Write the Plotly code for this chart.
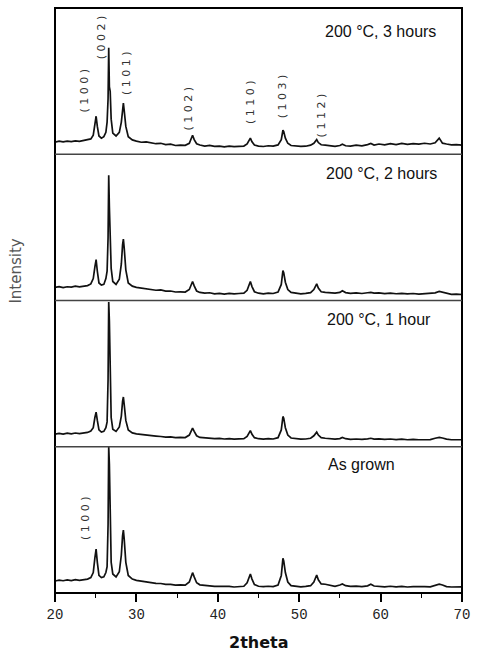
import plotly.graph_objects as go
from plotly.subplots import make_subplots

# ---- data (2theta grid shared by all four patterns) ----
two_theta = [
    20.0, 20.5, 21.0, 21.5, 22.0, 22.5, 23.0, 23.5, 24.0, 24.4,
    24.7, 24.9, 25.05, 25.2, 25.4, 25.7,
    26.0, 26.25, 26.4, 26.52, 26.6, 26.68, 26.78, 26.9, 27.1,
    27.5, 27.9, 28.15, 28.3, 28.4, 28.5, 28.7, 29.0,
    29.5, 30.0, 30.6, 31.2, 31.8, 32.4, 33.0, 33.6, 34.2, 34.8, 35.4, 36.0,
    36.5, 36.75, 36.9, 37.1, 37.4, 37.8,
    38.4, 39.0, 39.6, 40.2, 40.8, 41.4, 42.0, 42.6, 43.2,
    43.6, 43.85, 44.0, 44.2, 44.5,
    45.0, 45.6, 46.2, 46.8, 47.4,
    47.8, 48.0, 48.1, 48.3, 48.6, 49.0,
    49.6, 50.2, 50.8, 51.4,
    51.8, 52.0, 52.15, 52.35, 52.7, 53.2,
    53.8, 54.4, 55.0, 55.3, 55.7, 56.3, 57.0, 57.7, 58.4, 58.8, 59.2, 59.8,
    60.5, 61.2, 61.9, 62.6, 63.3, 64.0, 64.7, 65.4, 66.1, 66.7, 67.2, 67.6,
    68.1, 68.7, 69.3, 70.0,
]

int_3h = [
    8.3, 8.9, 8.5, 9.0, 8.6, 9.2, 8.8, 9.3, 9.6, 10.5,
    13, 21, 26, 19, 12.5, 11,
    12, 15, 22, 38, 72.8, 46, 43, 24, 14.5,
    12.5, 15, 22, 32, 35, 30, 19, 12,
    9.8, 9.0, 8.2, 8.5, 7.6, 7.2, 7.5, 6.6, 6.9, 6.0, 6.3, 6.1,
    7.5, 11, 13, 10, 7.2, 6.3,
    5.6, 6.0, 5.4, 5.5, 5.0, 5.6, 5.2, 5.4, 5.6,
    7.0, 10, 11, 8.5, 6.3,
    5.6, 5.3, 5.8, 5.6, 6.4,
    10, 16.4, 15.5, 11, 7.5, 6.0,
    5.6, 5.4, 5.5, 6.2,
    7.5, 9.5, 10, 8, 6.5, 6.2,
    5.8, 5.4, 6.0, 6.8, 5.8, 5.5, 6.2, 5.8, 6.6, 7.4, 6.3, 7.0,
    6.4, 7.2, 6.6, 7.4, 6.8, 7.3, 6.9, 7.5, 7.0, 7.8, 11.0, 7.6,
    7.0, 6.4, 6.6, 6.2,
]

int_2h = [
    9.0, 9.5, 8.8, 9.4, 9.2, 9.8, 9.3, 9.9, 10.2, 11.3,
    15, 23, 28, 20, 12, 10.5,
    11, 15, 20, 43, 85.6, 64, 40, 22, 13,
    11, 14.5, 25, 38, 42, 36, 21, 12,
    9.8, 9.0, 8.6, 8.0, 7.9, 7.0, 7.2, 6.4, 6.5, 5.8, 5.9, 5.8,
    7.5, 11, 13, 10, 6.5, 5.5,
    5.0, 5.3, 4.6, 4.9, 4.4, 4.9, 4.5, 4.8, 5.0,
    7, 11, 13, 9.5, 6.0,
    5.0, 4.6, 5.0, 4.8, 5.8,
    11, 20.5, 19, 12.5, 7.5, 5.5,
    4.8, 4.6, 4.9, 5.4,
    7.5, 10.5, 11.4, 8.5, 6.0, 5.5,
    5.4, 5.0, 5.5, 6.6, 5.4, 4.9, 5.2, 4.8, 5.3, 5.6, 5.0, 5.2,
    4.7, 5.1, 4.6, 4.9, 4.5, 4.8, 4.4, 4.7, 4.5, 5.2, 6.2, 5.6,
    4.6, 4.2, 4.4, 4.1,
]

int_1h = [
    8.6, 9.1, 8.7, 9.3, 8.8, 9.4, 9.0, 9.5, 9.8, 10.8,
    13, 20, 23.7, 18, 11.5, 10,
    10.5, 13, 17, 46, 99, 86, 44, 20, 12,
    10.5, 13.5, 21, 31, 34, 29, 18, 11.5,
    9.5, 8.8, 8.3, 8.0, 7.6, 7.3, 7.0, 6.6, 6.8, 6.2, 6.4, 6.3,
    8, 11, 12.8, 10.5, 7.5, 6.4,
    6.0, 5.8, 5.6, 5.7, 5.3, 5.6, 5.2, 5.4, 5.5,
    7, 9.8, 11, 8.5, 6.2,
    5.5, 5.2, 5.6, 5.3, 6.2,
    11.5, 20.7, 19.5, 13, 8, 6.0,
    5.4, 5.2, 5.3, 5.8,
    7.5, 9.5, 10, 8, 6.2, 5.8,
    5.6, 5.2, 5.6, 6.4, 5.5, 5.0, 5.3, 5.0, 5.4, 5.8, 5.2, 5.4,
    5.0, 5.3, 4.9, 5.2, 4.8, 5.1, 4.8, 5.0, 4.9, 5.8, 6.4, 6.0,
    5.2, 4.8, 5.0, 4.8,
]

int_grown = [
    8.2, 8.8, 8.4, 8.9, 8.5, 9.1, 8.7, 9.2, 9.5, 10.5,
    14, 24, 30, 21, 12, 10.5,
    11, 14, 18, 46.6, 100, 88, 45, 21, 13,
    11, 14.5, 26, 39, 43, 37, 21, 12,
    9.5, 8.6, 8.0, 7.6, 7.1, 6.6, 6.5, 5.9, 5.9, 5.4, 5.5, 5.4,
    7.5, 12, 13.9, 11, 7, 5.6,
    5.0, 4.9, 4.5, 4.6, 4.2, 4.5, 4.1, 4.4, 4.6,
    7, 11, 13, 9.5, 5.8,
    4.6, 4.3, 4.6, 4.4, 5.5,
    12, 23.7, 22, 14, 7.5, 5.0,
    4.4, 4.2, 4.5, 5.0,
    7.5, 11, 12.3, 9, 6.2, 6.0,
    5.2, 4.6, 5.5, 6.2, 5.0, 4.5, 4.7, 4.4, 4.9, 6.0, 4.8, 4.6,
    4.2, 4.6, 4.2, 4.5, 4.1, 4.4, 4.1, 4.3, 4.2, 5.2, 6.0, 5.5,
    4.4, 4.1, 4.3, 4.2,
]

panel_series = [int_3h, int_2h, int_1h, int_grown]
panel_labels = ["200 °C, 3 hours", "200 °C, 2 hours", "200 °C, 1 hour", "As grown"]
panel_label_x = [60.0, 60.1, 59.8, 57.6]
panel_label_y = [83.6, 87.0, 87.0, 87.7]

hkl_labels = ["(100)", "(002)", "(101)", "(102)", "(110)", "(103)", "(112)"]
hkl_x = [23.6, 25.75, 28.76, 36.45, 44.0, 47.9, 52.7]
hkl_y = [43.8, 79.8, 55.8, 31.2, 36.0, 39.7, 26.7]
grown_hkl_label = "(100)"
grown_hkl_x = 23.75
grown_hkl_y = 51.0

x_ticks = [20, 30, 40, 50, 60, 70]

for s in panel_series:
    assert len(s) == len(two_theta), len(s)

fig = make_subplots(rows=4, cols=1, shared_xaxes=True, vertical_spacing=0)

for i, ys in enumerate(panel_series):
    fig.add_trace(
        go.Scatter(x=two_theta, y=ys, mode="lines",
                   line=dict(color="#111111", width=1.7),
                   showlegend=False, hoverinfo="skip"),
        row=i + 1, col=1)
    fig.update_yaxes(range=[0, 100], showticklabels=False, showgrid=False,
                     zeroline=False, ticks="", showline=False, row=i + 1, col=1)
    fig.update_xaxes(range=[20, 70], showgrid=False, zeroline=False,
                     showline=False, row=i + 1, col=1)
    if i < 3:
        fig.update_xaxes(showticklabels=False, ticks="", row=i + 1, col=1)

fig.update_xaxes(
    tickvals=x_ticks, ticktext=[str(v) for v in x_ticks], ticks="outside",
    ticklen=8, tickwidth=1.5, tickcolor="black",
    minor=dict(dtick=5, tick0=20, ticks="outside", ticklen=4, tickwidth=1.2,
               tickcolor="black"),
    tickfont=dict(family="Liberation Mono", size=14, color="#222222"),
    row=4, col=1)

annotations = []
yrefs = ["y", "y2", "y3", "y4"]
for i in range(4):
    annotations.append(dict(
        x=panel_label_x[i], y=panel_label_y[i], xref="x" if i == 0 else f"x{i+1}",
        yref=yrefs[i], text=panel_labels[i], showarrow=False,
        font=dict(family="Liberation Sans", size=16, color="#111111"),
        xanchor="center", yanchor="middle"))

for lab, hx, hy in zip(hkl_labels, hkl_x, hkl_y):
    annotations.append(dict(
        x=hx, y=hy, xref="x", yref="y", text=" ".join(lab), showarrow=False,
        textangle=-90, font=dict(family="DejaVu Sans", size=11, color="#333333"),
        xanchor="center", yanchor="middle"))
annotations.append(dict(
    x=grown_hkl_x, y=grown_hkl_y, xref="x4", yref="y4",
    text=" ".join(grown_hkl_label), showarrow=False, textangle=-90,
    font=dict(family="DejaVu Sans", size=11, color="#333333"),
    xanchor="center", yanchor="middle"))

annotations.append(dict(
    x=0.5, y=-0.0838, xref="paper", yref="paper", text="<b>2theta</b>",
    showarrow=False, font=dict(family="DejaVu Sans", size=16, color="#111111"),
    xanchor="center", yanchor="middle"))
annotations.append(dict(
    x=-0.095, y=0.55, xref="paper", yref="paper", text="Intensity",
    showarrow=False, textangle=-90,
    font=dict(family="DejaVu Sans", size=15, color="#555555"),
    xanchor="center", yanchor="middle"))

shapes = [dict(type="rect", xref="paper", yref="paper", x0=0, x1=1, y0=0, y1=1,
               line=dict(color="black", width=2))]
for yy in [0.25, 0.5, 0.75]:
    shapes.append(dict(type="line", xref="paper", yref="paper", x0=0, x1=1,
                       y0=yy, y1=yy, line=dict(color="#444444", width=1.3)))

fig.update_layout(
    width=478, height=655,
    margin=dict(l=55, r=10, t=8, b=62),
    plot_bgcolor="white", paper_bgcolor="white",
    annotations=annotations, shapes=shapes,
)

fig.write_html("out.html")
